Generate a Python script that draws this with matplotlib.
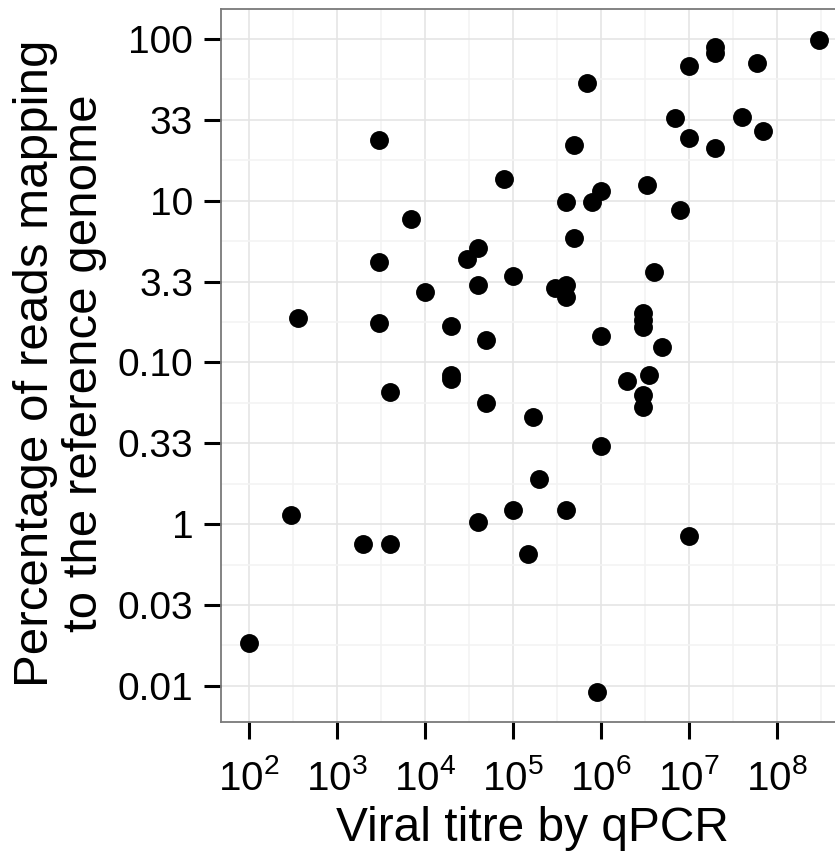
import numpy as np
import matplotlib
matplotlib.use('Agg')
import matplotlib.pyplot as plt
from matplotlib.ticker import FixedLocator, NullFormatter

plt.rcParams['font.family'] = ['Liberation Sans', 'DejaVu Sans']
plt.rcParams['mathtext.fontset'] = 'custom'
plt.rcParams['mathtext.rm'] = 'Liberation Sans Narrow'
plt.rcParams['mathtext.it'] = 'Liberation Sans Narrow'
plt.rcParams['mathtext.bf'] = 'Liberation Sans Narrow'

# viral titre (qPCR) and percentage of reads mapping
titre = [3e8, 2e7, 2e7, 1e7, 6e7, 7e5,
         3e3, 5e5, 7e6, 1e7, 2e7, 4e7, 7e7,
         8e4, 7e3, 3.3e6, 1e6, 4e5, 8e5, 8e6, 5e5, 4e4, 3e4, 3e3,
         1e4, 1e5, 4e4, 3e5, 4e5, 4e5, 4e6, 360, 3e3, 2e4, 5e4, 1e6,
         3e6, 3e6, 3e6, 5e6,
         2e4, 2e4, 4e3, 5e4, 2e6, 3.5e6, 3e6, 3e6, 1.7e5, 1e6,
         2e5, 300, 1e5, 4e5, 4e4, 2e3, 4e3, 1.5e5, 1e7, 100, 9e5]
pct = [98.6, 89.3, 81.8, 68.1, 71.1, 53.5,
       23.8, 22.1, 32.5, 24.4, 21.2, 33.0, 27.0,
       13.6, 7.71, 12.5, 11.5, 9.82, 9.82, 8.77, 5.89, 5.11, 4.37, 4.18,
       2.73, 3.43, 3.01, 2.89, 3.01, 2.54, 3.63, 1.88, 1.75, 1.68, 1.38, 1.46,
       2.02, 1.83, 1.66, 1.25,
       0.838, 0.791, 0.658, 0.562, 0.769, 0.840, 0.630, 0.531, 0.460, 0.305,
       0.191, 0.114, 0.122, 0.122, 0.103, 0.0755, 0.0755, 0.0655, 0.0845, 0.0185, 0.00918]

x_ticks = [1e2, 1e3, 1e4, 1e5, 1e6, 1e7, 1e8]
x_labels = [r'$\mathregular{10^{%d}}$' % e for e in range(2, 9)]
y_ticks = [100, 31.6, 10, 3.16, 1, 0.316, 0.1, 0.0316, 0.01]
y_labels = ['100', '33', '10', '3.3', '0.10', '0.33', '1', '0.03', '0.01']

fig = plt.figure(figsize=(8.35, 8.51), dpi=100)
ax = fig.add_axes([221 / 835, 129 / 851, 625.5 / 835, 713 / 851])

ax.scatter(titre, pct, s=185, c='black', linewidths=0, zorder=3)

ax.set_xscale('log')
ax.set_yscale('log')
ax.set_xlim(10 ** 1.683, 10 ** 8.79)
ax.set_ylim(10 ** -2.223, 10 ** 2.185)

ax.xaxis.set_major_locator(FixedLocator(x_ticks))
ax.set_xticklabels(x_labels, fontsize=29)
ax.xaxis.set_minor_locator(FixedLocator([10 ** (e + 0.5) for e in range(1, 9)]))
ax.xaxis.set_minor_formatter(NullFormatter())

ax.yaxis.set_major_locator(FixedLocator(y_ticks))
ax.set_yticklabels(y_labels, fontsize=28)
ax.yaxis.set_minor_locator(FixedLocator([10 ** (2.25 - 0.5 * k) for k in range(9)]))
ax.yaxis.set_minor_formatter(NullFormatter())

ax.tick_params(which='major', length=12, width=2.2, color='black', labelcolor='black')
ax.tick_params(axis='y', which='major', pad=8)
ax.tick_params(axis='x', which='major', pad=15)
ax.tick_params(which='minor', length=0)

ax.grid(which='major', color='#e5e5e5', linewidth=1.2, zorder=0)
ax.grid(which='minor', color='#f3f3f3', linewidth=1.2, zorder=0)
ax.set_axisbelow(True)

for s in ax.spines.values():
    s.set_color('#7a7a7a')
    s.set_linewidth(1.3)

fig.text(60 / 835, (851 - 363) / 851, 'Percentage of reads mapping\nto the reference genome',
         rotation=90, ha='center', va='center', fontsize=35.5, linespacing=1.1)
fig.text(532 / 835, 10 / 851, 'Viral titre by qPCR', ha='center', va='baseline', fontsize=34.5)

fig.savefig('out.png', dpi=100)
